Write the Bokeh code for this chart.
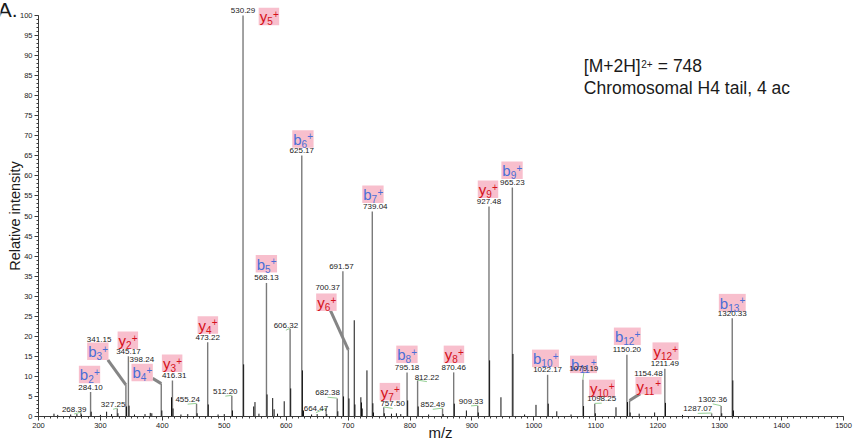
import math
from bokeh.plotting import figure
from bokeh.models import ColumnDataSource, Range1d, SingleIntervalTicker, Label
from bokeh.core.properties import value
from bokeh.embed import file_html
from bokeh.resources import INLINE

# ---------------- data ----------------
LABELED_MZ = [268.39, 284.10, 327.25, 341.15, 345.17, 398.24, 416.31, 455.24, 473.22, 512.20,
              530.29, 568.13, 606.32, 625.17, 664.47, 682.38, 691.57, 700.37, 739.04, 757.50,
              795.18, 812.22, 852.49, 870.46, 909.33, 927.48, 965.23, 1022.17, 1079.19, 1098.25,
              1150.20, 1154.48, 1211.49, 1287.07, 1302.36, 1320.33]
LABELED_INT = [1.0, 6.1, 2.0, 7.9, 15.0, 8.2, 9.0, 3.2, 18.5, 5.2,
               100.0, 33.3, 21.9, 65.1, 2.0, 4.5, 36.2, 16.6, 51.1, 2.3,
               11.0, 9.0, 2.0, 11.0, 2.7, 52.4, 57.1, 10.4, 9.2, 3.2,
               15.4, 4.0, 11.9, 0.8, 2.6, 24.5]

OTHER_MZ = [225.0, 231.0, 252.0, 262.0, 269.4, 285.1, 300.0, 310.0, 318.0, 328.3,
            342.2, 346.2, 355.0, 372.0, 380.5, 383.0, 399.2, 414.8, 417.3, 430.0,
            441.0, 456.2, 474.2, 490.0, 500.0, 513.2, 531.3, 547.5, 549.6, 556.0,
            569.1, 578.2, 580.5, 586.0, 596.8, 607.3, 626.2, 628.0, 641.0, 650.0,
            665.5, 683.4, 692.6, 701.4, 709.9, 711.0, 720.6, 721.6, 722.8, 730.4,
            740.0, 741.0, 758.5, 770.0, 778.0, 785.0, 796.2, 813.2, 830.0, 853.5,
            871.5, 891.0, 910.3, 928.5, 946.8, 966.2, 985.0, 1003.4, 1023.2, 1037.0,
            1060.0, 1080.2, 1099.3, 1132.6, 1151.2, 1155.5, 1170.0, 1195.0, 1212.5, 1240.0,
            1303.4, 1321.3, 1322.3]
OTHER_INT = [0.7, 0.4, 0.5, 0.6, 0.5, 1.2, 0.4, 1.2, 0.6, 0.8,
             2.5, 2.7, 0.5, 0.6, 0.9, 0.8, 1.5, 4.8, 2.0, 0.5,
             0.6, 0.8, 3.0, 0.5, 0.6, 1.5, 13.0, 2.5, 3.6, 0.7,
             5.5, 4.6, 1.8, 0.7, 3.8, 7.0, 11.5, 1.5, 0.5, 0.6,
             0.6, 1.3, 5.0, 4.5, 24.0, 3.0, 4.8, 3.5, 2.0, 11.5,
             3.3, 1.0, 0.8, 0.7, 0.8, 0.6, 4.0, 2.5, 0.5, 0.6,
             3.2, 1.5, 1.0, 14.0, 4.8, 15.6, 0.5, 2.9, 3.2, 1.3,
             0.5, 2.6, 0.8, 2.3, 3.6, 1.0, 0.7, 1.0, 3.4, 0.4,
             0.8, 9.0, 1.5]

IONS = ["y5", "b6", "b7", "y9", "b9", "b5", "y6", "y4", "y2", "b3", "b2", "b4",
        "y3", "b8", "y8", "y7", "b10", "b11", "y10", "b12", "y12", "y11", "b13"]
LEADER_IONS = ["b3", "b4", "y6", "y11"]
LEADER_PEAKS = [341.15, 398.24, 700.37, 1154.48]
GREEN_LABELS = ["268.39", "327.25", "455.24", "512.20", "606.32", "664.47", "682.38",
                "757.50", "812.22", "852.49", "909.33", "1079.19", "1098.25", "1287.07", "1302.36"]

X_START, X_END, X_STEP = 200, 1500, 100
Y_TOP_TICK, Y_STEP = 100, 5
ANNOT_LINE1 = ("[M+2H]", "2+", "= 748")
ANNOT_LINE2 = "Chromosomal H4 tail, 4 ac"
X_TITLE, Y_TITLE, PANEL = "m/z", "Relative intensity", "A."

# ---------------- layout ----------------
FONT = "Liberation Sans"
W, H = 854, 442
AX_LEFT, AX_WIDTH = 38, 805       # pixel position of m/z 200 and span to 1500
AX_ZERO, SY = 416, 4.01           # pixel row of intensity 0, pixels per unit
SX = AX_WIDTH / (X_END - X_START)


def xpix(px):
    return X_START + (px - AX_LEFT) / SX


def ypix(py):
    return (AX_ZERO - py) / SY


BLUE, RED, PINK = "#4a6ed6", "#d5121b", "#f8bfcd"
INK = "#1a1a1a"

LABEL_OFFSETS = {
    "268.39": (-6.7, -3.0), "327.25": (-4.2, -3.7), "341.15": (-26.8, -45.3),
    "398.24": (-19.4, -24.0), "416.31": (1.7, -5.0), "455.24": (-8.9, -4.0),
    "512.20": (-6.5, -4.0), "606.32": (-4.2, -3.0), "664.47": (-10.2, -0.3),
    "682.38": (-9.6, -5.7), "691.57": (-1.5, -5.0), "700.37": (-20.7, -62.0),
    "739.04": (3.0, -5.0), "757.50": (8.9, -3.4), "812.22": (9.3, -3.3),
    "852.49": (-9.8, -3.7), "909.33": (-6.7, -4.3), "1079.19": (0.9, -11.3),
    "1098.25": (7.0, -5.0), "1154.48": (18.9, -27.3), "1287.07": (-13.9, -4.4),
    "1302.36": (-8.4, -6.7),
}
ION_BOX = {
    "y5": (572.1, 99.75), "b6": (627.0, 69.2), "b7": (740.1, 55.4), "y9": (925.9, 56.7),
    "b9": (964.7, 61.4), "b5": (568.0, 38.1), "y6": (664.9, 28.5), "y4": (473.5, 22.8),
    "y2": (344.3, 19.0), "b3": (295.8, 16.3), "b2": (282.4, 10.5), "b4": (367.4, 11.0),
    "y3": (415.8, 13.3), "b8": (795.0, 15.5), "y8": (870.9, 15.5), "y7": (767.5, 6.2),
    "b10": (1018.7, 14.5), "b11": (1080.1, 13.0), "y10": (1110.0, 7.0), "b12": (1150.9, 20.0),
    "y12": (1212.6, 16.3), "y11": (1185.1, 7.7), "b13": (1320.4, 28.4),
}
LEADER_START = {"b3": (10.0, 8.75), "b4": (10.5, 6.0), "y6": (3.8, 7.6), "y11": (-8.2, 8.0)}

p = figure(width=W, height=H,
           x_range=Range1d(xpix(0), xpix(W)), y_range=Range1d(ypix(H), ypix(0)),
           output_backend="svg", toolbar_location=None,
           min_border_left=0, min_border_right=0, min_border_top=0, min_border_bottom=0)
p.outline_line_color = None
p.grid.visible = False
p.background_fill_color = "white"

for ax in (p.xaxis[0], p.yaxis[0]):
    ax.axis_line_color = "#3a3a3a"
    ax.major_tick_line_color = "#3a3a3a"
    ax.minor_tick_line_color = "#3a3a3a"
    ax.major_tick_out = 4
    ax.major_tick_in = 0
    ax.minor_tick_out = 2
    ax.minor_tick_in = 0
    ax.major_label_text_font = FONT
    ax.major_label_text_font_size = "7.5px"
    ax.major_label_text_color = "#222222"
    ax.major_label_standoff = 2
p.xaxis.ticker = SingleIntervalTicker(interval=X_STEP, num_minor_ticks=10)
p.xaxis.bounds = (X_START, X_END)
p.xaxis.fixed_location = 0
p.yaxis.ticker = SingleIntervalTicker(interval=Y_STEP, num_minor_ticks=5)
p.yaxis.bounds = (0, Y_TOP_TICK)
p.yaxis.fixed_location = X_START

# peaks
p.segment(x0=LABELED_MZ, y0=[0] * len(LABELED_MZ), x1=LABELED_MZ, y1=LABELED_INT,
          line_color="#7a7a7a", line_width=1.4)
p.segment(x0=OTHER_MZ, y0=[0] * len(OTHER_MZ), x1=OTHER_MZ, y1=OTHER_INT,
          line_color="#111111", line_width=1)

peak_top = dict(zip([f"{m:.2f}" for m in LABELED_MZ], zip(LABELED_MZ, LABELED_INT)))

# peak labels (positions relative to each peak top, in pixels)
lx, ly, lt = [], [], []
for mz, it in zip(LABELED_MZ, LABELED_INT):
    t = f"{mz:.2f}"
    dx, dy = LABEL_OFFSETS.get(t, (0.0, -5.0))
    lx.append(mz + dx / SX)
    ly.append(it - dy / SY)
    lt.append(t)
label_pos = dict(zip(lt, zip(lx, ly)))

# green connectors
gx0, gy0, gx1, gy1 = [], [], [], []
for t in GREEN_LABELS:
    cx, cy = label_pos[t]
    mz, it = peak_top[t]
    gx0.append(cx); gy0.append(cy - 4.5 / SY)
    gx1.append(mz); gy1.append(it + 0.3 / SY)
p.segment(x0=gx0, y0=gy0, x1=gx1, y1=gy1, line_color="#95d095", line_width=1)

# leaders
sx0, sy0, sx1, sy1 = [], [], [], []
for ion, pk in zip(LEADER_IONS, LEADER_PEAKS):
    bx, by = ION_BOX[ion]
    ox, oy = LEADER_START[ion]
    mz, it = peak_top[f"{pk:.2f}"]
    sx0.append(bx + ox / SX); sy0.append(by - oy / SY)
    sx1.append(mz); sy1.append(it)
p.segment(x0=sx0, y0=sy0, x1=sx1, y1=sy1, line_color="#858585", line_width=3)

# ion boxes and texts (offsets are from box centre)
bxs, bys, bws = [], [], []
L = dict(x=[], y=[], text=[], xo=[], color=[])
S = dict(x=[], y=[], text=[], xo=[], color=[])
for ion in IONS:
    letter, num = ion[0], ion[1:]
    bx, by = ION_BOX[ion]
    lw = (0.556 if letter == "b" else 0.5) * 15
    sw = 0.556 * 10 * len(num)
    w = 1 + lw + sw + 5.84 + 0.6
    bxs.append(bx); bys.append(by); bws.append(w)
    col = BLUE if letter == "b" else RED
    left = -w / 2
    L["x"].append(bx); L["y"].append(by - 0.4 / SY); L["text"].append(letter)
    L["xo"].append(left + 1); L["color"].append(col)
    S["x"].append(bx); S["y"].append(by - 4.9 / SY); S["text"].append(num)
    S["xo"].append(left + 1 + lw); S["color"].append(col)
    S["x"].append(bx); S["y"].append(by + 2.6 / SY); S["text"].append("+")
    S["xo"].append(left + 1 + lw + sw + 0.2); S["color"].append(col)

p.rect(x=bxs, y=bys, width=bws, height=[17.5] * len(bxs), width_units="screen",
       height_units="screen", fill_color=PINK, line_color=None)
p.text(x="x", y="y", text="text", x_offset="xo", text_color="color", source=ColumnDataSource(L),
       text_font=value(FONT), text_font_size="15px", text_align="left", text_baseline="middle")
p.text(x="x", y="y", text="text", x_offset="xo", text_color="color", source=ColumnDataSource(S),
       text_font=value(FONT), text_font_size="10px", text_align="left", text_baseline="middle")

p.text(x=lx, y=ly, text=lt, text_font=value(FONT), text_font_size="8px", text_align="center",
       text_baseline="middle", text_color=INK)

# annotations
ax0 = xpix(583.3)
p.add_layout(Label(x=ax0, y=ypix(65.5), text=ANNOT_LINE1[0], text_font=FONT, text_font_size="17.5px",
                   text_color=INK, text_baseline="middle"))
p.add_layout(Label(x=ax0, y=ypix(63.1), x_offset=57.5, text=ANNOT_LINE1[1], text_font=FONT,
                   text_font_size="10px", text_color=INK, text_baseline="middle"))
p.add_layout(Label(x=ax0, y=ypix(65.5), x_offset=74.0, text=ANNOT_LINE1[2], text_font=FONT,
                   text_font_size="17.5px", text_color=INK, text_baseline="middle"))
p.add_layout(Label(x=ax0, y=ypix(87.0), text=ANNOT_LINE2, text_font=FONT, text_font_size="17.5px",
                   text_color=INK, text_baseline="middle"))

p.add_layout(Label(x=xpix(14.5), y=50, angle=math.pi / 2, text=Y_TITLE,
                   text_font=FONT, text_font_size="14.5px", text_color=INK,
                   text_align="center", text_baseline="middle"))
p.add_layout(Label(x=xpix(440), y=ypix(432), text=X_TITLE, text_font=FONT,
                   text_font_size="15px", text_color=INK, text_align="center",
                   text_baseline="middle"))
p.add_layout(Label(x=xpix(17), y=ypix(9.4), text=PANEL, text_font=FONT,
                   text_font_size="21px", text_color=INK, text_align="right",
                   text_baseline="middle"))

open("out.html", "w").write(file_html(p, INLINE))
